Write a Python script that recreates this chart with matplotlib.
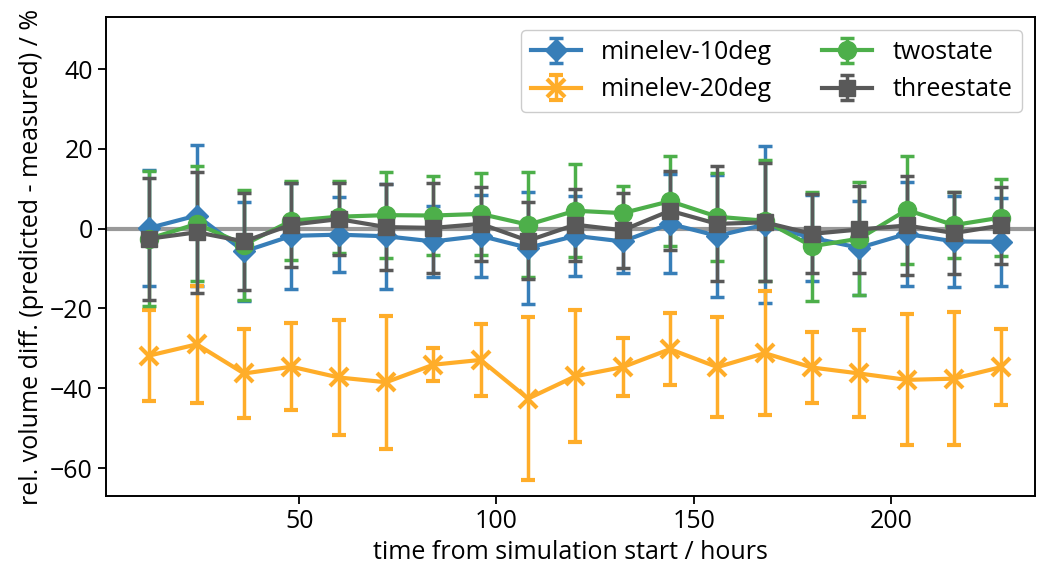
import numpy as np
import matplotlib.pyplot as plt

plt.rcParams['font.family'] = ['Open Sans', 'DejaVu Sans']

hours = [12, 24, 36, 48, 60, 72, 84, 96, 108, 120, 132, 144, 156, 168, 180, 192, 204, 216, 228]

minelev10 = [0.2, 3.3, -5.7, -1.8, -1.5, -1.9, -3.2, -1.8, -4.8, -1.8, -3.2, 1.2, -1.8, 1.0, -2.3, -4.8, -1.3, -3.2, -3.3]
minelev10_err = [14.5, 17.7, 12.4, 13.3, 9.4, 13.2, 8.8, 10.2, 14.0, 10.0, 7.8, 12.4, 15.3, 19.7, 10.8, 11.7, 13.0, 11.5, 11.0]

minelev20 = [-31.8, -29.0, -36.3, -34.6, -37.3, -38.5, -34.1, -32.9, -42.6, -37.0, -34.7, -30.2, -34.7, -31.2, -34.8, -36.3, -37.9, -37.6, -34.7]
minelev20_err = [11.3, 14.6, 11.2, 10.9, 14.5, 16.7, 4.2, 9.0, 20.4, 16.5, 7.2, 9.0, 12.5, 15.6, 9.0, 10.9, 16.4, 16.7, 9.5]

twostate = [-2.5, 1.2, -4.0, 2.0, 3.0, 3.4, 3.3, 3.7, 1.0, 4.5, 3.9, 6.9, 3.0, 2.0, -4.4, -2.5, 4.7, 0.9, 2.8]
twostate_err = [16.9, 14.4, 13.8, 9.9, 9.0, 10.8, 10.0, 10.3, 13.1, 11.7, 6.9, 11.3, 11.0, 15.2, 13.7, 14.2, 13.5, 8.2, 9.6]

threestate = [-2.5, -0.9, -3.2, 1.0, 2.4, 0.4, 0.2, 1.2, -3.0, 1.0, -0.4, 4.5, 1.2, 1.6, -1.3, -0.2, 0.8, -1.1, 0.8]
threestate_err = [15.3, 15.1, 12.2, 10.5, 9.0, 10.8, 11.3, 9.2, 9.7, 9.0, 9.4, 9.9, 14.4, 14.8, 9.9, 10.8, 12.4, 10.2, 9.6]

fig = plt.figure(figsize=(10.4, 5.76), dpi=100)
ax = fig.add_axes([0.102, 0.139, 0.893, 0.831])

ax.axhline(0, color='#999999', linewidth=3, zorder=0)

common = dict(linewidth=3, elinewidth=2.5, capsize=5, capthick=2.5)
ax.errorbar(hours, minelev10, yerr=minelev10_err, color='#377eb8', marker='D',
            markersize=11, label='minelev-10deg', **common)
ax.errorbar(hours, minelev20, yerr=minelev20_err, color='#ffad29', marker='x',
            markersize=13, markeredgewidth=3, label='minelev-20deg', **common)
ax.errorbar(hours, twostate, yerr=twostate_err, color='#4daf4a', marker='o',
            markersize=13, label='twostate', **common)
ax.errorbar(hours, threestate, yerr=threestate_err, color='#595959', marker='s',
            markersize=12, label='threestate', **common)

ax.set_xlim(1.0, 236.5)
ax.set_ylim(-67, 53)
ax.set_xticks([50, 100, 150, 200])
ax.set_yticks([-60, -40, -20, 0, 20, 40])
ax.tick_params(labelsize=18, width=1.3, length=6)
for s in ax.spines.values():
    s.set_linewidth(1.4)

ax.set_xlabel('time from simulation start / hours', fontsize=18)
ax.set_ylabel('rel. volume diff. (predicted - measured) / %', fontsize=18)
ax.legend(loc='upper right', ncol=2, fontsize=18, framealpha=1, edgecolor='#cccccc',
          handlelength=2.0, columnspacing=2.0)

fig.savefig('out.png', dpi=100)
